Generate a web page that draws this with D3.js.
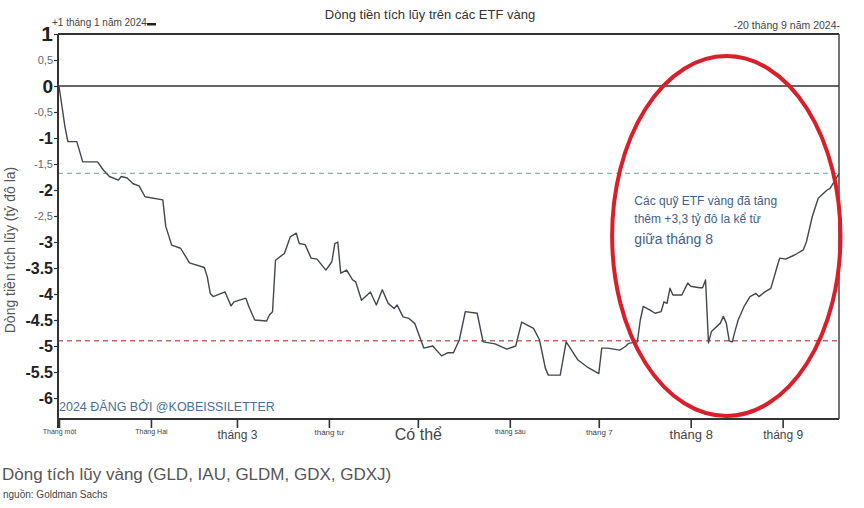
<!DOCTYPE html>
<html><head><meta charset="utf-8">
<script src="https://cdn.jsdelivr.net/npm/d3@7"></script>
<style>
body{margin:0;background:#fff;}
svg{display:block;font-family:"Liberation Sans",Arial,sans-serif;}
</style></head>
<body><svg id="c" width="864" height="508"></svg>
<script>
const dates = ["2024-01-01","2024-01-03","2024-01-04","2024-01-07","2024-01-09","2024-01-14","2024-01-16","2024-01-18","2024-01-21","2024-01-22","2024-01-24","2024-01-26","2024-01-28","2024-01-30",
"2024-02-05","2024-02-06","2024-02-08","2024-02-11","2024-02-14","2024-02-19","2024-02-20","2024-02-21","2024-02-22","2024-02-26","2024-02-28","2024-02-29",
"2024-03-04","2024-03-05","2024-03-07","2024-03-11","2024-03-12","2024-03-13","2024-03-14","2024-03-17","2024-03-19","2024-03-21","2024-03-22","2024-03-24","2024-03-26","2024-03-28","2024-03-31",
"2024-04-02","2024-04-03","2024-04-04","2024-04-05","2024-04-07","2024-04-09","2024-04-10","2024-04-12","2024-04-15","2024-04-17","2024-04-19","2024-04-21","2024-04-23","2024-04-24","2024-04-26","2024-04-28","2024-04-30",
"2024-05-03","2024-05-06","2024-05-09","2024-05-11","2024-05-13","2024-05-15","2024-05-17","2024-05-21","2024-05-23","2024-05-27","2024-05-31",
"2024-06-03","2024-06-05","2024-06-09","2024-06-11","2024-06-13","2024-06-14","2024-06-18","2024-06-20","2024-06-24","2024-06-27",
"2024-07-01","2024-07-02","2024-07-04","2024-07-08","2024-07-10","2024-07-11","2024-07-14","2024-07-15","2024-07-16","2024-07-18","2024-07-20","2024-07-22","2024-07-23","2024-07-24","2024-07-25","2024-07-26","2024-07-29","2024-07-31",
"2024-08-01","2024-08-04","2024-08-05","2024-08-06","2024-08-07","2024-08-08","2024-08-11","2024-08-12","2024-08-13","2024-08-14","2024-08-15","2024-08-16","2024-08-17","2024-08-19","2024-08-21","2024-08-23","2024-08-24","2024-08-26","2024-08-28","2024-08-29","2024-08-30","2024-08-31",
"2024-09-02","2024-09-05","2024-09-08","2024-09-09","2024-09-11","2024-09-13","2024-09-16","2024-09-17","2024-09-19","2024-09-20"];
const flows = [0,-0.78,-1.07,-1.07,-1.46,-1.46,-1.62,-1.74,-1.81,-1.74,-1.77,-1.88,-1.92,-2.13,
-2.19,-2.7,-3.06,-3.12,-3.4,-3.49,-3.67,-3.99,-4.05,-3.96,-4.23,-4.15,
-4.08,-4.24,-4.5,-4.52,-4.4,-4.34,-3.35,-3.22,-2.9,-2.83,-3.03,-3.05,-3.31,-3.33,-3.54,
-3.38,-3.03,-3.0,-3.6,-3.54,-3.73,-3.76,-4.12,-3.96,-4.21,-3.92,-4.18,-4.28,-4.21,-4.44,-4.47,-4.57,
-5.04,-5.0,-5.19,-5.13,-5.13,-4.88,-4.34,-4.37,-4.92,-4.96,-5.06,
-5.0,-4.54,-4.66,-4.88,-5.43,-5.56,-5.56,-4.92,-5.27,-5.4,
-5.53,-5.04,-5.04,-5.08,-5.01,-4.95,-4.92,-4.5,-4.24,-4.3,-4.37,-4.34,-4.15,-4.18,-3.89,-4.02,-4.02,-3.79,
-3.85,-3.88,-3.88,-3.73,-4.94,-4.72,-4.56,-4.43,-4.56,-4.9,-4.92,-4.7,-4.5,-4.24,-4.05,-3.99,-4.05,-3.96,-3.89,-3.7,-3.5,-3.31,
-3.33,-3.25,-3.15,-3.0,-2.51,-2.16,-2.0,-1.97,-1.78,-1.68];

const yTickValues = [1,0.5,0,-0.5,-1,-1.5,-2,-2.5,-3,-3.5,-4,-4.5,-5,-5.5,-6];
const yTickLabels = ["1","0,5","0","-0,5","-1","-1,5","-2","-2,5","-3","-3.5","-4","-4.5","-5","-5.5","-6"];
const monthDates = ["2024-01-01","2024-02-01","2024-03-01","2024-04-01","2024-05-01","2024-06-01","2024-07-01","2024-08-01","2024-09-01"];
const monthLabels = ["Tháng một","Tháng Hai","tháng 3","tháng tư","Có thể","tháng sáu","tháng 7","tháng 8","tháng 9"];
const monthLabelSizes = [7,7,12,8,16,7,8,13,12];
const refLevels = [-1.68,-4.9];
const refColors = ["#8fb0ab","#b86a6a"];
const noteLines = ["Các quỹ ETF vàng đã tăng","thêm +3,3 tỷ đô la kể từ","giữa tháng 8"];
const noteSizes = [12,12,14];
const noteAnchor = {date:"2024-07-13", values:[-2.28,-2.64,-3.03]};
const ellipseSpec = {center:"2024-08-13", value:-2.885, halfDays:38.5, halfValue:3.46};

const parse = d3.utcParse("%Y-%m-%d");
const data = dates.map((d,i)=>({date:parse(d), v:flows[i]}));
const svg = d3.select("#c");
const L=58, R=839, T=34, B=419;
const x = d3.scaleUtc().domain([parse("2024-01-01"), parse("2024-09-20")]).range([59, 839]);
const y = d3.scaleLinear().domain([-6.4, 1]).range([418.8, 34]);

svg.append("rect").attr("width",864).attr("height",508).attr("fill","#fff");

// title
svg.append("text").attr("x",430).attr("y",19).attr("text-anchor","middle")
  .attr("font-size",13).attr("fill","#333").text("Dòng tiền tích lũy trên các ETF vàng");
svg.append("text").attr("x",52).attr("y",26).attr("font-size",10).attr("fill","#444").text("+1 tháng 1 năm 2024-");
svg.append("rect").attr("x",147).attr("y",23).attr("width",9).attr("height",2.5).attr("fill","#222");
svg.append("text").attr("x",840).attr("y",29).attr("text-anchor","end").attr("font-size",10.5).attr("fill","#444").text("-20 tháng 9 năm 2024-");

// frame
svg.append("line").attr("x1",L).attr("x2",R).attr("y1",y(1)).attr("y2",y(1)).attr("stroke","#333").attr("stroke-width",2);
svg.append("line").attr("x1",R).attr("x2",R).attr("y1",y(1)).attr("y2",B).attr("stroke","#444").attr("stroke-width",1.5);
svg.append("line").attr("x1",L).attr("x2",R).attr("y1",y(0)).attr("y2",y(0)).attr("stroke","#333").attr("stroke-width",1.5);

// ref dashed lines
svg.selectAll(".ref").data(refLevels).join("line")
  .attr("x1",L).attr("x2",R).attr("y1",d=>y(d)).attr("y2",d=>y(d))
  .attr("stroke",(d,i)=>refColors[i]).attr("stroke-width",1.4).attr("stroke-dasharray","5,4");

// y axis
const yAxis = d3.axisLeft(y).tickValues(yTickValues).tickSize(4).tickPadding(1)
  .tickFormat((d,i)=>yTickLabels[i]);
const gy = svg.append("g").attr("transform",`translate(${L},0)`).call(yAxis);
gy.select(".domain").attr("stroke","#333").attr("stroke-width",2).attr("d",`M-0,${y(1)}V${B+9}`);
gy.selectAll(".tick line").attr("stroke","#333").attr("stroke-width",1.2);
gy.selectAll(".tick text").each(function(d,i){
  const small = yTickLabels[i].includes(",");
  d3.select(this).attr("font-family","Liberation Sans, Arial, sans-serif")
    .attr("font-size", small?11:(d===1 ? 21 : d===0 ? 19 : 16))
    .attr("font-weight", small?"normal":"bold")
    .attr("fill", small?"#666":"#222");
});

// x axis
const xAxis = d3.axisBottom(x).tickValues(monthDates.map(parse)).tickSize(9).tickPadding(3)
  .tickFormat((d,i)=>monthLabels[i]);
const gx = svg.append("g").attr("transform",`translate(0,${B})`).call(xAxis);
gx.select(".domain").attr("stroke","#333").attr("stroke-width",1.8).attr("d",`M${L},0H${R}`);
gx.selectAll(".tick line").attr("stroke","#333").attr("stroke-width",1.6);
gx.selectAll(".tick text").each(function(d,i){
  d3.select(this).attr("font-family","Liberation Sans, Arial, sans-serif")
    .attr("font-size",monthLabelSizes[i]).attr("fill","#444")
    .attr("y",16 - (monthLabelSizes[i]>10 ? 0 : 3)).attr("dy","0.32em");
});

// y label
svg.append("text").attr("transform","translate(15,250) rotate(-90)").attr("text-anchor","middle")
  .attr("font-size",14).attr("fill","#555").text("Dòng tiền tích lũy (tỷ đô la)");

// line
const line = d3.line().x(d=>x(d.date)).y(d=>y(d.v));
svg.append("path").datum(data).attr("d",line).attr("fill","none")
  .attr("stroke","#42474d").attr("stroke-width",1.4).attr("stroke-linejoin","round");

// watermark
svg.append("text").attr("x",59).attr("y",411).attr("font-size",12.5).attr("fill","#4b6e96")
  .text("2024 ĐĂNG BỞI @KOBEISSILETTER");

// annotation
svg.selectAll(".note").data(noteLines).join("text")
  .attr("x",x(parse(noteAnchor.date))).attr("y",(d,i)=>y(noteAnchor.values[i]))
  .attr("font-size",(d,i)=>noteSizes[i]).attr("fill","#3f6189").text(d=>d);

// ellipse
const ec = parse(ellipseSpec.center);
const cx = x(ec), cy = y(ellipseSpec.value);
const rx = x(ec) - x(d3.utcHour.offset(ec, -ellipseSpec.halfDays*24));
const ry = y(ellipseSpec.value - ellipseSpec.halfValue) - cy;
svg.append("ellipse").attr("cx",cx).attr("cy",cy).attr("rx",rx).attr("ry",ry)
  .attr("fill","none").attr("stroke","#d91f2a").attr("stroke-width",4);

// bottom titles
svg.append("text").attr("x",2).attr("y",480).attr("font-size",17).attr("fill","#555")
  .text("Dòng tích lũy vàng (GLD, IAU, GLDM, GDX, GDXJ)");
svg.append("text").attr("x",3).attr("y",498).attr("font-size",10).attr("fill","#444")
  .text("nguồn: Goldman Sachs");
</script></body></html>
